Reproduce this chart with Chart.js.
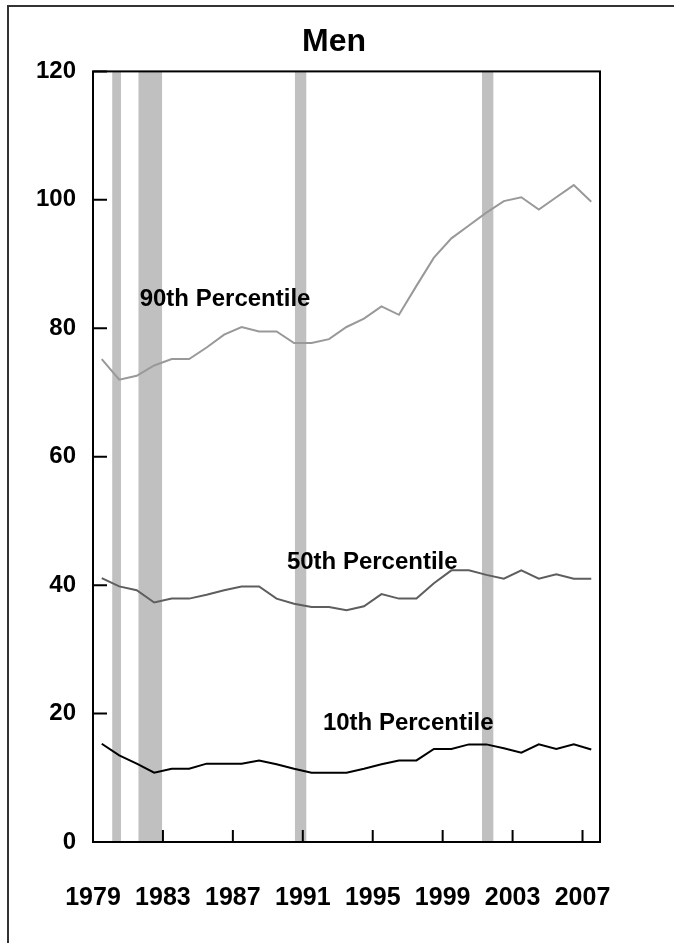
<!DOCTYPE html>
<html>
<head>
<meta charset="utf-8">
<title>Men</title>
<script src="https://cdn.jsdelivr.net/npm/chart.js@4.4.0/dist/chart.umd.min.js"></script>
<style>
  html, body { margin: 0; padding: 0; background: #fff; overflow: hidden; }
  #wrap { position: relative; width: 674px; height: 943px; }
  #frame {
    position: absolute; left: 7px; top: 5px; width: 720px; height: 1000px;
    border-left: 2px solid #333; border-top: 2px solid #333; box-sizing: border-box;
  }
  #menChart { position: absolute; left: 0; top: 0; }
</style>
</head>
<body>
<div id="wrap">
  <div id="frame"></div>
  <canvas id="menChart" width="674" height="943"></canvas>
</div>
<script>
// data (values in index points, one per year)
const years = [1979, 1980, 1981, 1982, 1983, 1984, 1985, 1986, 1987, 1988,
               1989, 1990, 1991, 1992, 1993, 1994, 1995, 1996, 1997, 1998,
               1999, 2000, 2001, 2002, 2003, 2004, 2005, 2006, 2007];
const p90 = [75.2, 72.0, 72.6, 74.2, 75.2, 75.2, 77.0, 79.0, 80.2, 79.5,
             79.5, 77.7, 77.7, 78.3, 80.2, 81.5, 83.4, 82.1, 86.6, 91.0,
             94.0, 96.0, 98.0, 99.8, 100.4, 98.5, 100.4, 102.3, 99.7];
const p50 = [41.1, 39.8, 39.2, 37.3, 37.9, 37.9, 38.5, 39.2, 39.8, 39.8,
             37.9, 37.1, 36.6, 36.6, 36.1, 36.7, 38.6, 37.9, 37.9, 40.3,
             42.3, 42.3, 41.6, 41.0, 42.3, 41.0, 41.7, 41.0, 41.0];
const p10 = [15.3, 13.5, 12.2, 10.8, 11.4, 11.4, 12.2, 12.2, 12.2, 12.7,
             12.1, 11.4, 10.8, 10.8, 10.8, 11.4, 12.1, 12.7, 12.7, 14.5,
             14.5, 15.2, 15.2, 14.6, 13.9, 15.2, 14.5, 15.2, 14.4];
const seriesNames = ["90th Percentile", "50th Percentile", "10th Percentile"];

const yearTicks = [1979, 1983, 1987, 1991, 1995, 1999, 2003, 2007];
const valueTicks = [0, 20, 40, 60, 80, 100, 120];

// recessions, in fractional years
const recessionStarts = [1980.1, 1981.6, 1990.55, 2001.25];
const recessionEnds = [1980.6, 1982.95, 1991.2, 2001.9];

const FONT = "'Liberation Sans', Arial, sans-serif";

// points sit in the middle of each year
const toPoints = (vals) => years.map((yr, i) => ({ x: yr + 0.5, y: vals[i] }));

const recessionShading = {
    id: "recessionShading",
    beforeDatasetsDraw(chart) {
        const { ctx, chartArea, scales: { x } } = chart;
        ctx.save();
        ctx.fillStyle = "#c0c0c0";
        recessionStarts.forEach((start, i) => {
            const x0 = x.getPixelForValue(start);
            const x1 = x.getPixelForValue(recessionEnds[i]);
            ctx.fillRect(x0, chartArea.top, x1 - x0, chartArea.bottom - chartArea.top);
        });
        ctx.restore();
    },
};

// box around the plot, inward tick marks and the series labels
const plotFrame = {
    id: "plotFrame",
    afterDatasetsDraw(chart) {
        const { ctx, chartArea: a, scales: { x, y } } = chart;
        ctx.save();
        ctx.strokeStyle = "#000";
        ctx.lineWidth = 2;
        ctx.strokeRect(a.left, a.top, a.right - a.left, a.bottom - a.top);
        ctx.beginPath();
        valueTicks.forEach((v) => {
            const py = y.getPixelForValue(v);
            ctx.moveTo(a.left, py);
            ctx.lineTo(a.left + 14, py);
        });
        yearTicks.forEach((v) => {
            const px = x.getPixelForValue(v);
            ctx.moveTo(px, a.bottom);
            ctx.lineTo(px, a.bottom - 12);
        });
        ctx.stroke();

        // label anchors (year, value) for each series name
        const anchors = [[1981.67, 83.5], [1990.09, 42.55], [1992.15, 17.4]];
        ctx.fillStyle = "#000";
        ctx.font = "bold 24px " + FONT;
        ctx.textAlign = "left";
        ctx.textBaseline = "alphabetic";
        seriesNames.forEach((name, i) => {
            ctx.fillText(name, x.getPixelForValue(anchors[i][0]), y.getPixelForValue(anchors[i][1]));
        });
        ctx.restore();
    },
};

const ctx = document.getElementById("menChart").getContext("2d");
new Chart(ctx, {
    type: "line",
    data: {
        datasets: [
            { label: seriesNames[0], data: toPoints(p90), borderColor: "#999999", borderWidth: 2 },
            { label: seriesNames[1], data: toPoints(p50), borderColor: "#5e5e5e", borderWidth: 2 },
            { label: seriesNames[2], data: toPoints(p10), borderColor: "#000000", borderWidth: 2 },
        ],
    },
    options: {
        responsive: false,
        animation: false,
        elements: { point: { radius: 0 }, line: { tension: 0 } },
        layout: { padding: { top: 0, right: 6, bottom: 0, left: 0 } },
        plugins: {
            legend: { display: false },
            tooltip: { enabled: false },
            title: {
                display: true,
                text: "Men",
                color: "#000",
                font: { family: FONT, size: 32, weight: "bold" },
                padding: { top: 23, bottom: 10 },
            },
        },
        scales: {
            x: {
                type: "linear",
                min: 1979,
                max: 2008,
                afterBuildTicks: (s) => { s.ticks = yearTicks.map((v) => ({ value: v })); },
                afterFit: (s) => { s.height = 101; },
                grid: { display: false, drawTicks: false },
                border: { display: false },
                ticks: {
                    padding: 41,
                    color: "#000",
                    maxRotation: 0,
                    autoSkip: false,
                    font: { family: FONT, size: 25, weight: "bold" },
                    callback: (v) => String(v),
                },
            },
            y: {
                min: 0,
                max: 120,
                afterBuildTicks: (s) => { s.ticks = valueTicks.map((v) => ({ value: v })); },
                afterFit: (s) => { s.width = 93; },
                grid: { display: false, drawTicks: false },
                border: { display: false },
                ticks: {
                    padding: 17,
                    color: "#000",
                    font: { family: FONT, size: 24, weight: "bold" },
                    callback: (v) => String(v),
                },
            },
            // empty right-hand margin so the title centres on the outer frame
            yRight: {
                position: "right",
                min: 0,
                max: 120,
                afterFit: (s) => { s.width = 68; },
                grid: { display: false, drawTicks: false },
                border: { display: false },
                ticks: { display: false },
            },
        },
    },
    plugins: [recessionShading, plotFrame],
});
</script>
</body>
</html>
